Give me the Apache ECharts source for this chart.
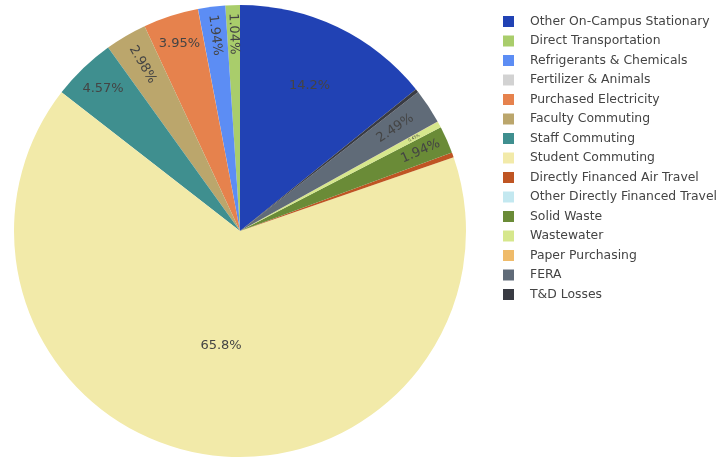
<!DOCTYPE html>
<html>
<head>
<meta charset="utf-8">
<script src="https://cdn.jsdelivr.net/npm/echarts@6/dist/echarts.min.js"></script>
<style>
  html, body { margin: 0; padding: 0; background: #fff; }
  #chart { width: 717px; height: 458px; }
</style>
</head>
<body>
<div id="chart"></div>
<script>
// emissions share by source, in percent (legend order)
const categories = [
  'Other On-Campus Stationary', 'Direct Transportation', 'Refrigerants & Chemicals',
  'Fertilizer & Animals', 'Purchased Electricity', 'Faculty Commuting', 'Staff Commuting',
  'Student Commuting', 'Directly Financed Air Travel', 'Other Directly Financed Travel',
  'Solid Waste', 'Wastewater', 'Paper Purchasing', 'FERA', 'T&D Losses'
]
const values = [14.2, 1.04, 1.94, 0.01, 3.95, 2.98, 4.57, 65.8, 0.35, 0.01, 1.94, 0.45, 0.02, 2.49, 0.25]
const labels = ['14.2%', '1.04%', '1.94%', '', '3.95%', '2.98%', '4.57%', '65.8%', '', '', '1.94%', '0.45%', '', '2.49%', '']

const colors = [
  '#2142b4', '#a9cd6b', '#5c8df4', '#d2d2d2', '#e6824d', '#bba66c', '#3f8f8f',
  '#f2eaa9', '#bf5523', '#c3e8f0', '#6a8b37', '#d6e78c', '#efbb6a', '#606b78', '#393b43'
]

// label placement per slice: radius band (label sits at its mid-point) and orientation
const defaultBand = ['72%', '100%']
const labelBand = {
  'Other On-Campus Stationary': ['40%', '100%'],
  'Faculty Commuting': ['68%', '100%'],
  'FERA': ['62%', '100%'],
  'Student Commuting': ['0%', '100%']
}
const radialLabels = [
  'Direct Transportation', 'Refrigerants & Chemicals', 'Faculty Commuting',
  'Solid Waste', 'Wastewater', 'FERA'
]

const total = values.reduce((a, b) => a + b, 0)
const startAngle = 90 - values[0] / total * 360
const center = [240, 231]
const R = 226

const chart = echarts.init(document.getElementById('chart'))

const bandKey = (name) => JSON.stringify(labelBand[name] || defaultBand)

function pieData(withLabels, band) {
  return categories.map((name, i) => {
    const show = withLabels && labels[i] !== '' && bandKey(name) === band
    return {
      name,
      value: values[i],
      itemStyle: { color: withLabels ? 'transparent' : colors[i] },
      label: {
        show,
        formatter: labels[i],
        rotate: radialLabels.includes(name) ? 'radial' : 0,
        fontSize: name === 'Wastewater' ? 4 : 13
      }
    }
  })
}

const bands = Array.from(new Set(categories.map(bandKey)))

const series = [{
  type: 'pie',
  center,
  radius: [0, R],
  startAngle,
  clockwise: false,
  avoidLabelOverlap: false,
  label: { show: false },
  labelLine: { show: false },
  itemStyle: { borderWidth: 0 },
  emphasis: { disabled: true },
  data: pieData(false, null)
}]
for (const b of bands) {
  const [r0, r1] = JSON.parse(b)
  series.push({
    type: 'pie',
    silent: true,
    center,
    radius: [parseFloat(r0) / 100 * R, parseFloat(r1) / 100 * R],
    startAngle,
    clockwise: false,
    avoidLabelOverlap: false,
    legendHoverLink: false,
    label: { position: 'inside', color: '#444', fontFamily: 'DejaVu Sans' },
    labelLine: { show: false },
    itemStyle: { borderWidth: 0 },
    emphasis: { disabled: true },
    data: pieData(true, b)
  })
}

chart.setOption({
  animation: false,
  color: colors,
  legend: {
    orient: 'vertical',
    left: 498,
    top: 9,
    data: categories,
    icon: 'rect',
    itemWidth: 11,
    itemHeight: 11,
    itemGap: 4.5,
    selectedMode: false,
    textStyle: {
      fontSize: 12.4, color: '#444', fontFamily: 'DejaVu Sans',
      lineHeight: 15, padding: [0, 0, 0, 11]
    }
  },
  series
})
</script>
</body>
</html>
